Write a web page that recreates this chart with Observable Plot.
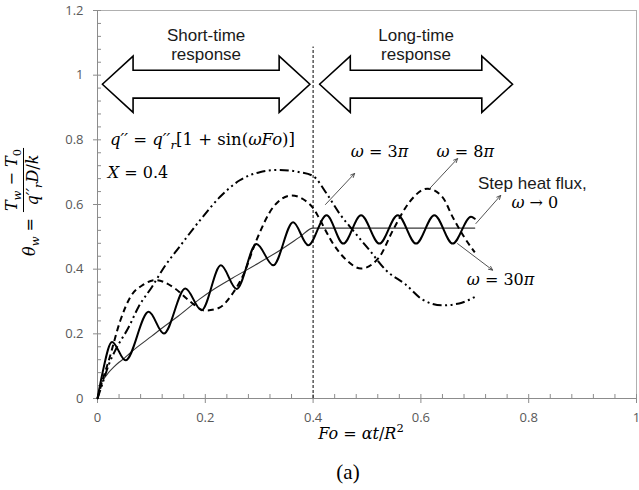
<!DOCTYPE html>
<html>
<head>
<meta charset="utf-8">
<script src="https://cdn.jsdelivr.net/npm/d3@7"></script>
<script src="https://cdn.jsdelivr.net/npm/@observablehq/plot@0.6"></script>
<style>
  html, body { margin: 0; padding: 0; background: white; }
</style>
</head>
<body>
<div id="chart"></div>
<script>
// ---------- data ----------
// Step heat flux (omega -> 0)
const foStep = [0, 0.005, 0.01, 0.02, 0.03, 0.04, 0.05, 0.06, 0.073, 0.1, 0.12, 0.15, 0.19, 0.218, 0.25, 0.3, 0.338, 0.375, 0.4, 0.7];
const thStep = [0, 0.04, 0.056, 0.079, 0.097, 0.112, 0.125, 0.14, 0.158, 0.192, 0.218, 0.255, 0.308, 0.34, 0.372, 0.42, 0.458, 0.499, 0.527, 0.527];
// omega = 30 pi (solid)
const fo30 = [0, 0.009, 0.027, 0.052, 0.095, 0.123, 0.163, 0.193, 0.229, 0.258, 0.295, 0.326, 0.363, 0.391, 0.425, 0.456, 0.489, 0.523, 0.557, 0.591, 0.625, 0.659, 0.693, 0.7];
const th30 = [0, 0.077, 0.175, 0.118, 0.268, 0.201, 0.34, 0.273, 0.412, 0.339, 0.478, 0.412, 0.545, 0.474, 0.567, 0.479, 0.567, 0.479, 0.567, 0.479, 0.567, 0.479, 0.562, 0.556];
// omega = 8 pi (dashed)
const fo8 = [0, 0.01, 0.021, 0.0425, 0.061, 0.085, 0.108, 0.144, 0.169, 0.2, 0.225, 0.252, 0.27, 0.295, 0.326, 0.36, 0.381, 0.403, 0.412, 0.437, 0.462, 0.489, 0.523, 0.548, 0.579, 0.612, 0.64, 0.659, 0.68, 0.7];
const th8 = [0, 0.06, 0.118, 0.242, 0.314, 0.352, 0.366, 0.34, 0.304, 0.272, 0.28, 0.328, 0.38, 0.49, 0.592, 0.628, 0.617, 0.582, 0.555, 0.479, 0.428, 0.402, 0.438, 0.52, 0.608, 0.649, 0.623, 0.561, 0.5, 0.452];
// omega = 3 pi (dash-dot-dot)
const fo3 = [0, 0.01, 0.021, 0.033, 0.058, 0.076, 0.101, 0.126, 0.147, 0.19, 0.227, 0.264, 0.301, 0.338, 0.375, 0.4, 0.425, 0.449, 0.474, 0.505, 0.535, 0.572, 0.603, 0.64, 0.671, 0.7];
const th3 = [0, 0.05, 0.105, 0.149, 0.221, 0.283, 0.345, 0.412, 0.458, 0.551, 0.623, 0.675, 0.7, 0.707, 0.7, 0.688, 0.634, 0.572, 0.52, 0.458, 0.397, 0.352, 0.306, 0.288, 0.294, 0.314];

// axis ticks
const xTicks = [0, 0.2, 0.4, 0.6, 0.8, 1];
const yTicks = [0, 0.2, 0.4, 0.6, 0.8, 1, 1.2];

// time ranges marked by block arrows
const spanStart = [0.009, 0.412];
const spanEnd = [0.394, 0.770];
const spanText = ["Short-time\nresponse", "Long-time\nresponse"];
const regimeBoundary = [0.4];

// annotation pointers (from curve to label)
const ptrX1 = [0.423, 0.616, 0.702, 0.668];
const ptrY1 = [0.600, 0.649, 0.541, 0.479];
const ptrX2 = [0.477, 0.668, 0.748, 0.733];
const ptrY2 = [0.696, 0.742, 0.628, 0.397];

// ---------- layout / style ----------
const MATH = "DejaVu Serif";
const SANS = "Liberation Sans";
const arrowCY = 0.972, shaftHalf = 0.043, headHalf = 0.087, headLen = 0.057;

const blockPts = [];
spanStart.forEach((a, i) => {
  const b = spanEnd[i], c = arrowCY;
  [[a, c], [a + headLen, c + headHalf], [a + headLen, c + shaftHalf], [b - headLen, c + shaftHalf],
   [b - headLen, c + headHalf], [b, c], [b - headLen, c - headHalf], [b - headLen, c - shaftHalf],
   [a + headLen, c - shaftHalf], [a + headLen, c - headHalf], [a, c]]
    .forEach(([x, y]) => blockPts.push({x, y, z: i}));
});
const spanMid = spanStart.map((a, i) => (a + spanEnd[i]) / 2);

const fmt = d => String(+d.toFixed(1));
const xMinor = d3.range(26).map(i => +(i * 0.04).toFixed(2));
const yMinor = d3.range(31).map(i => +(i * 0.04).toFixed(2));

const chart = Plot.plot({
  width: 639,
  height: 490,
  marginLeft: 97,
  marginRight: 3,
  marginTop: 10,
  marginBottom: 92,
  x: {domain: [0, 1]},
  y: {domain: [0, 1.2]},
  style: {background: "white", fontFamily: "Open Sans", fontSize: "13px", color: "#595959", overflow: "visible"},
  marks: [
    Plot.frame({stroke: "#b0b0b0"}),
    Plot.ruleY([0], {stroke: "#8c8c8c"}),
    Plot.ruleX([0], {stroke: "#8c8c8c"}),
    Plot.axisX({ticks: xTicks, tickSize: 5, tickPadding: 9, tickFormat: fmt, label: null, stroke: "#8c8c8c", fill: "#595959"}),
    Plot.axisX({ticks: xMinor, tickSize: -4, tickFormat: () => "", label: null, stroke: "#8c8c8c"}),
    Plot.axisY({ticks: yTicks, tickSize: 4, tickPadding: 10, tickFormat: fmt, label: null, stroke: "#8c8c8c", fill: "#595959"}),
    Plot.axisY({ticks: yMinor, tickSize: -4, tickFormat: () => "", label: null, stroke: "#8c8c8c"}),
    Plot.ruleX(regimeBoundary, {y1: 0, y2: 1.087, stroke: "black", strokeWidth: 1, strokeDasharray: "3,2"}),
    Plot.line(blockPts, {x: "x", y: "y", z: "z", fill: "white", stroke: "black", strokeWidth: 1.6, strokeLinejoin: "miter", strokeMiterlimit: 10, curve: "linear"}),
    Plot.text(spanText, {x: spanMid, y: 1.046, text: d => d, textAnchor: "middle", lineAnchor: "bottom", lineHeight: 1.12, fontFamily: SANS, fontSize: 17, fill: "#1a1a1a"}),
    Plot.line(thStep, {x: foStep, y: thStep, stroke: "#383838", strokeWidth: 1.1, curve: "monotone-x"}),
    Plot.line(th3, {x: fo3, y: th3, stroke: "black", strokeWidth: 2, strokeDasharray: "9,3.5,2,3.5,2,3.5", strokeLinecap: "butt", curve: "monotone-x"}),
    Plot.line(th8, {x: fo8, y: th8, stroke: "black", strokeWidth: 2, strokeDasharray: "6,4", strokeLinecap: "butt", curve: "monotone-x"}),
    Plot.line(th30, {x: fo30, y: th30, stroke: "black", strokeWidth: 2, curve: "monotone-x"}),
    Plot.arrow(ptrX1, {x1: ptrX1, y1: ptrY1, x2: ptrX2, y2: ptrY2, stroke: "#404040", strokeWidth: 0.9, headLength: 7, headAngle: 50, bend: 0}),
    Plot.text(["Step heat flux,"], {x: 0.706, y: 0.647, text: d => d, textAnchor: "start", lineAnchor: "bottom", fontFamily: SANS, fontSize: 17, fill: "#1a1a1a"})
  ]
});
document.getElementById("chart").appendChild(chart);

// ---------- math-styled text through the plot's scales ----------
const sx = v => chart.scale("x").apply(v);
const sy = v => chart.scale("y").apply(v);
const svg = d3.select(chart);

function rich(parent, x, y, parts, {size = 16, anchor = "start", family = MATH, transform = null} = {}) {
  const t = parent.append("text").attr("x", x).attr("y", y)
    .attr("font-family", family).attr("font-size", size)
    .attr("text-anchor", anchor).attr("fill", "black");
  if (transform) t.attr("transform", transform);
  let shift = 0;
  for (const p of parts) {
    const target = p.sub ? 0.26 * size : p.sup ? -0.42 * size : 0;
    const s = t.append("tspan").text(p.t).attr("dy", target - shift);
    shift = target;
    s.attr("font-size", (p.sub || p.sup) ? size * 0.72 : size);
    if (p.i) s.attr("font-style", "italic");
  }
  return t;
}

const qLabel = [{t: "q′′", i: 1}, {t: " = "}, {t: "q′′", i: 1}, {t: "r", i: 1, sub: 1}, {t: "[1 + sin("}, {t: "ωFo", i: 1}, {t: ")]"}];
const xLabelParts = [{t: "X", i: 1}, {t: " = 0.4"}];
const w3 = [{t: "ω", i: 1}, {t: " = 3"}, {t: "π", i: 1}];
const w8 = [{t: "ω", i: 1}, {t: " = 8"}, {t: "π", i: 1}];
const w30 = [{t: "ω", i: 1}, {t: " = 30"}, {t: "π", i: 1}];
const w0 = [{t: "ω", i: 1}, {t: " → 0"}];

rich(svg, sx(0.024), sy(0.783), qLabel, {size: 16.5});
rich(svg, sx(0.020), sy(0.681), xLabelParts);
rich(svg, sx(0.471), sy(0.746), w3);
rich(svg, sx(0.630), sy(0.746), w8);
rich(svg, sx(0.686), sy(0.350), w30);
rich(svg, sx(0.769), sy(0.588), w0);

// x-axis title
rich(svg, 361, 439, [{t: "Fo", i: 1}, {t: " = "}, {t: "αt", i: 1}, {t: "/"}, {t: "R", i: 1}, {t: "2", sup: 1}], {anchor: "middle"});

// y-axis title (rotated)
rich(svg, 0, 0, [{t: "θ", i: 1}, {t: "w", i: 1, sub: 1}, {t: " ="}], {anchor: "end", transform: "translate(35,218) rotate(-90)"});
const num = rich(svg, 0, 0, [{t: "T", i: 1}, {t: "w", i: 1, sub: 1}, {t: " − "}, {t: "T", i: 1}, {t: "0", sub: 1}], {anchor: "middle", transform: "translate(16.5,180) rotate(-90)"});
const den = rich(svg, 0, 0, [{t: "q′′", i: 1}, {t: "r", i: 1, sub: 1}, {t: "D", i: 1}, {t: "/"}, {t: "k", i: 1}], {anchor: "middle", transform: "translate(38,180) rotate(-90)"});
const barLen = Math.max(num.node().getComputedTextLength(), den.node().getComputedTextLength()) + 2;
svg.append("line").attr("x1", 23.5).attr("x2", 23.5).attr("y1", 180 - barLen / 2).attr("y2", 180 + barLen / 2)
  .attr("stroke", "black").attr("stroke-width", 1);

// panel tag
svg.append("text").attr("x", 348).attr("y", 479).attr("text-anchor", "middle")
  .attr("font-family", "Liberation Serif").attr("font-size", 21).attr("fill", "black").text("(a)");
</script>
</body>
</html>
